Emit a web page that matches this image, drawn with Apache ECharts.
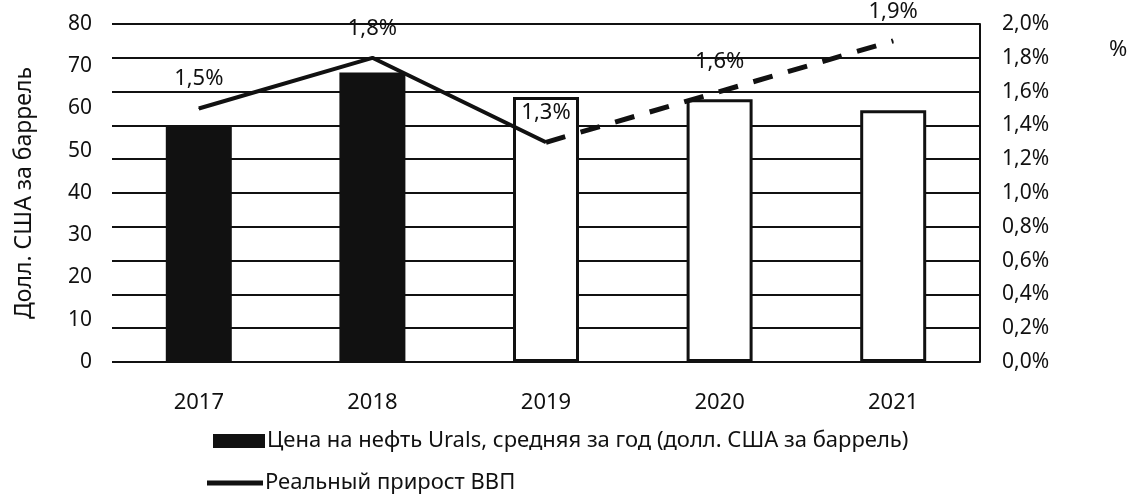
<!DOCTYPE html>
<html><head><meta charset="utf-8">
<script src="https://cdn.jsdelivr.net/npm/echarts@6/dist/echarts.min.js"></script>
<style>html,body{margin:0;padding:0;background:#fff}#c{width:1131px;height:498px}</style>
</head><body><div id="c"></div>
<script>
const years = ['2017', '2018', '2019', '2020', '2021'];
const uralsPrice = [56, 68.5, 62.7, 62.2, 59.6];
const gdpActual = [1.5, 1.8, 1.3, null, null];
const gdpForecast = [null, null, 1.3, 1.6, 1.9];
const leftTicks = { min: 0, max: 80, step: 10 };
const rightTicks = { min: 0, max: 2, step: 0.2 };
const barName = 'Цена на нефть Urals, средняя за год (долл. США за баррель)';
const lineName = 'Реальный прирост ВВП';
const leftAxisName = 'Долл. США за баррель';
const firstForecastIndex = 2;

const FONT = 'Noto Sans';
const chart = echarts.init(document.getElementById('c'));
const fmtPct = v => v.toFixed(1).replace('.', ',') + '%';

const barData = uralsPrice.map((v, i) => ({
  value: v,
  itemStyle: i < firstForecastIndex
    ? { color: '#111', borderColor: '#111', borderWidth: 0 }
    : { color: '#fff', borderColor: '#111', borderWidth: 3 }
}));

const lbl = { show: true, position: 'top', distance: 18, color: '#111', fontFamily: FONT, fontSize: 22, formatter: p => fmtPct(p.value) };

chart.setOption({
  animation: false,
  textStyle: { fontFamily: FONT, color: '#111' },
  title: { text: '%', left: 1104, top: 34, textStyle: { fontFamily: FONT, fontSize: 22, fontWeight: 'normal', color: '#111' } },
  grid: { left: 112, right: 151, top: 24, bottom: 136 },
  legend: [
    { data: [barName], left: 208, top: 425, icon: 'rect', itemWidth: 52, itemHeight: 14, itemGap: 4,
      textStyle: { fontFamily: FONT, fontSize: 22, color: '#111', padding: [0, 0, 0, -3] } },
    { data: [lineName], left: 202, top: 467, icon: 'rect', itemWidth: 56, itemHeight: 5, itemGap: 4,
      textStyle: { fontFamily: FONT, fontSize: 22, color: '#111', padding: [0, 0, 0, -3] } }
  ],
  xAxis: {
    type: 'category', data: years,
    axisLine: { show: false }, axisTick: { show: false },
    axisLabel: { margin: 30, fontSize: 22, color: '#111', fontFamily: FONT }
  },
  yAxis: [
    { type: 'value', min: leftTicks.min, max: leftTicks.max, interval: leftTicks.step, position: 'left',
      name: leftAxisName, nameLocation: 'middle', nameGap: 76, nameRotate: 90,
      nameTextStyle: { fontFamily: FONT, fontSize: 23, color: '#111' },
      axisLine: { show: false }, axisTick: { show: false }, splitLine: { show: false },
      axisLabel: { fontSize: 21, color: '#111', margin: 20, fontFamily: FONT } },
    { type: 'value', min: rightTicks.min, max: rightTicks.max, interval: rightTicks.step, position: 'right',
      axisLine: { show: true, lineStyle: { color: '#111', width: 2 } }, axisTick: { show: false },
      splitLine: { show: true, lineStyle: { color: '#111', width: 2 } },
      axisLabel: { fontSize: 21, color: '#111', margin: 22, fontFamily: FONT, formatter: fmtPct, padding: [20, 0, 0, 0] } }
  ],
  series: [
    { name: barName, type: 'bar', yAxisIndex: 0, data: barData, barWidth: 66, itemStyle: { color: '#111' } },
    { name: lineName, type: 'line', yAxisIndex: 1, data: gdpActual, symbol: 'circle', symbolSize: 1,
      itemStyle: { color: '#111' }, lineStyle: { color: '#111', width: 4 }, label: lbl, z: 5 },
    { name: lineName, type: 'line', yAxisIndex: 1, data: gdpForecast, symbol: 'circle', symbolSize: 1,
      itemStyle: { color: '#111' }, lineStyle: { color: '#111', width: 5, type: [20, 16] },
      label: Object.assign({}, lbl, { formatter: p => p.dataIndex === firstForecastIndex ? '' : fmtPct(p.value) }), z: 5 }
  ]
});
</script></body></html>
